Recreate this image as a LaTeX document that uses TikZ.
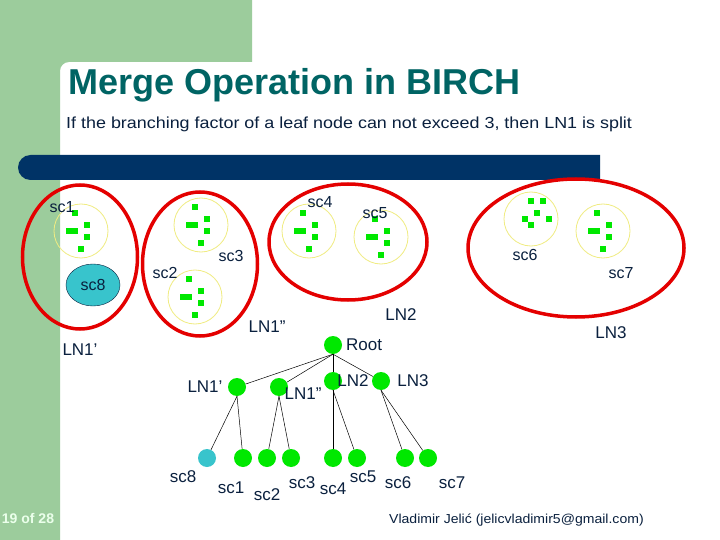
\documentclass[tikz,border=0pt]{standalone}
\usepackage{fontspec}
\setmainfont{Liberation Sans}
\usetikzlibrary{shapes.geometric}
\definecolor{slidegreen}{RGB}{156,204,156}
\definecolor{barnavy}{RGB}{0,51,102}
\definecolor{titleteal}{RGB}{0,100,100}
\definecolor{inknavy}{RGB}{10,32,62}
\definecolor{dotgreen}{RGB}{0,232,0}
\definecolor{sceight}{RGB}{56,196,204}
\definecolor{ringred}{RGB}{228,0,0}
\definecolor{ringyellow}{RGB}{240,236,130}
\newcommand{\ptsfour}[1]{%
    \begin{scope}[shift={(#1)}]
        \foreach \dx/\dy in {-6/-18,6/-6,6/6,0/18}
            \fill[dotgreen] (\dx-2.6,\dy-2.6) rectangle +(5.2,5.2);
        \fill[dotgreen] (-15,-2.6) rectangle +(12,5.2);
    \end{scope}}
\tikzset{
    ring/.style={ellipse, draw=ringred, line width=3.5pt},
    clus/.style={circle, draw=ringyellow, line width=0.8pt, minimum size=54},
    lbl/.style={text=inknavy, font=\fontsize{16}{16}\selectfont, inner sep=0},
    lbltree/.style={text=inknavy, font=\fontsize{17}{17}\selectfont, inner sep=0},
    tnode/.style={circle, fill=dotgreen, minimum size=18, inner sep=0},
}

\begin{document}
\begin{tikzpicture}[x=1pt,y=-1pt]
    \useasboundingbox (0,0) rectangle (720,540);
    \fill[white] (0,0) rectangle (720,540);
    \fill[slidegreen] (0,0) -- (252,0) -- (252,62) -- (69,62) arc[start angle=270,end angle=180,radius=9] -- (60,540) -- (0,540) -- cycle;
    \node[anchor=base west, inner sep=0, text=titleteal, font=\fontsize{36}{36}\selectfont\bfseries] (title) at (68,95) {Merge Operation in BIRCH};
    \node[anchor=base west, inner sep=0, text=inknavy, font=\fontsize{16}{16}\selectfont] (sub) at (66,129) {\scalebox{1.12}[1]{If the branching factor of a leaf node can not exceed 3, then LN1 is split}};
    \fill[barnavy] (30.5,155) -- (600,155) -- (600,180) -- (30.5,180) arc[start angle=90,end angle=270,radius=12.5] -- cycle;

    \node[ring, minimum width=115, minimum height=144] (E1a) at (80,257) {};
    \node[ring, minimum width=115, minimum height=144] (E1b) at (200,264) {};
    \node[ring, minimum width=158, minimum height=116] (E2) at (348,242) {};
    \node[ring, minimum width=216, minimum height=138] (E3) at (576,248) {};

    \node[clus] (c1) at (81,231) {};
    \node[clus] (c3) at (201,225) {};
    \node[clus] (c2) at (195,297) {};
    \node[clus] (c4) at (309,231) {};
    \node[clus] (c5) at (381,237) {};
    \node[clus] (c6) at (531,219) {};
    \node[clus] (c7) at (603,231) {};
    \node[ellipse, draw=inknavy, fill=sceight, minimum width=54, minimum height=42, text=inknavy, font=\fontsize{16}{16}\selectfont] (c8) at (93,285) {sc8};
    \ptsfour{c1}
    \ptsfour{c2}
    \ptsfour{c3}
    \ptsfour{c4}
    \ptsfour{c5}
    \ptsfour{c7}
    \begin{scope}[shift={(c6)}]
        \foreach \dx/\dy in {0/-18,12/-18,6/-6,-6/0,18/0,0/6}
            \fill[dotgreen] (\dx-2.6,\dy-2.6) rectangle +(5.2,5.2);
    \end{scope}

    \node[lbl] (t1) at (62,207) {sc1};
    \node[lbl] (t2) at (165,273) {sc2};
    \node[lbl] (t3) at (231,256) {sc3};
    \node[lbl] (t4) at (320,202) {sc4};
    \node[lbl] (t5) at (375,213) {sc5};
    \node[lbl] (t6) at (525,255) {sc6};
    \node[lbl] (t7) at (621,273) {sc7};
    \node[lbltree] (tE1a) at (80,350) {LN1’};
    \node[lbltree] (tE1b) at (267,327) {LN1”};
    \node[lbltree] (tE2) at (401,315) {LN2};
    \node[lbltree] (tE3) at (611,333) {LN3};

    \node[tnode] (root) at (333,345) {};
    \node[lbltree, anchor=west] (troot) at (346,345) {Root};
    \node[tnode] (LN1a) at (237,387) {};
    \node[tnode] (LN1b) at (279,387) {};
    \node[tnode] (LN2) at (333,381) {};
    \node[tnode] (LN3) at (381,381) {};
    \node[lbltree] (tLN1a) at (205,387) {LN1’};
    \node[lbltree] (tLN1b) at (303,394) {LN1”};
    \node[lbltree] (tLN2) at (353,381) {LN2};
    \node[lbltree] (tLN3) at (413,381) {LN3};

    \node[tnode, fill=sceight] (s8) at (207,458) {};
    \node[tnode] (s1) at (243,458) {};
    \node[tnode] (s2) at (267,458) {};
    \node[tnode] (s3) at (291,458) {};
    \node[tnode] (s4) at (333,458) {};
    \node[tnode] (s5) at (357,458) {};
    \node[tnode] (s6) at (405,458) {};
    \node[tnode] (s7) at (428,458) {};
    \node[lbltree] (ts8) at (183,477) {sc8};
    \node[lbltree] (ts1) at (231,488) {sc1};
    \node[lbltree] (ts2) at (267,495) {sc2};
    \node[lbltree] (ts3) at (302,483) {sc3};
    \node[lbltree] (ts4) at (333,489) {sc4};
    \node[lbltree] (ts5) at (363,477) {sc5};
    \node[lbltree] (ts6) at (398,483) {sc6};
    \node[lbltree] (ts7) at (452,483) {sc7};

    \draw[line width=0.5pt] (root.south) edge (LN1a) edge (LN1b) edge (LN2) edge (LN3);
    \draw[line width=0.5pt] (LN1a.south) edge (s8) edge (s1);
    \draw[line width=0.5pt] (LN1b.south) edge (s2) edge (s3);
    \draw[line width=0.5pt] (LN2.south) edge (s4) edge (s5);
    \draw[line width=0.5pt] (LN3.south) edge (s6) edge (s7);

    \node[text=white!92!green, font=\fontsize{14}{14}\selectfont\bfseries] (pgno) at (28,518) {19 of 28};
    \node[anchor=base west, inner sep=0, text=inknavy, font=\fontsize{13}{13}\selectfont] (credit) at (389,523) {\scalebox{1.08}[1]{Vladimir Jelić (jelicvladimir5@gmail.com)}};
\end{tikzpicture}
\end{document}
